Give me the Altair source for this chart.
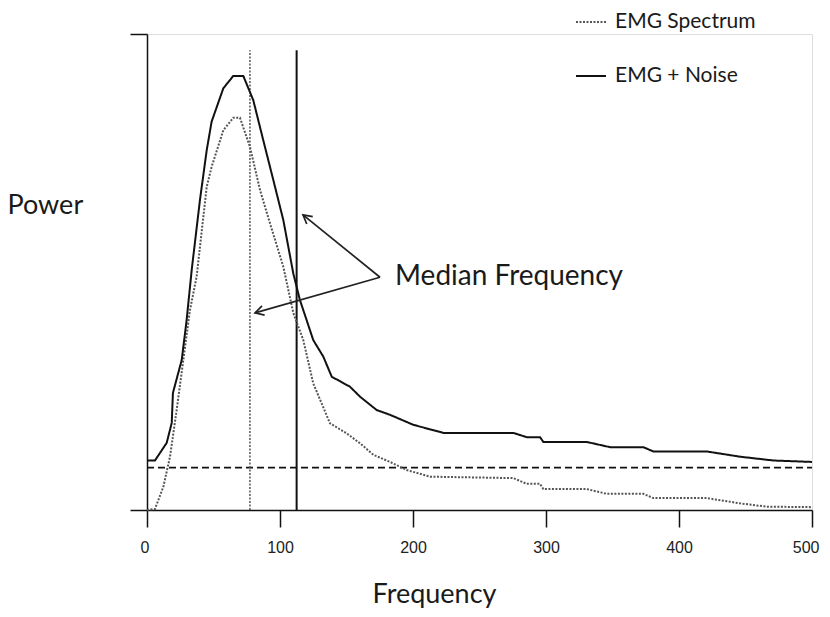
import math
import altair as alt
import pandas as pd

# ---- data ----
noise_freq = [0, 6, 14.8, 18.6, 19.5, 26.1, 29.8, 33.6, 39.8, 44.9, 48.6, 57.4, 64.9, 72.4,
              79.9, 87.4, 95.0, 102.5, 110.0, 115.0, 125.0, 132.6, 138.9, 152.6, 160.2, 172.7,
              182.7, 200.2, 222.8, 275.4, 285.5, 295.5, 298.0, 330.6, 348.1, 373.2, 380.7,
              420.8, 445.9, 470.9, 500]
noise_power = [10.4, 10.4, 14.1, 18.3, 24.6, 31.5, 39.9, 50.4, 65.1, 75.6, 81.6, 88.6, 91.2, 91.2,
               86.1, 77.7, 69.3, 60.9, 49.7, 44.1, 35.7, 32.2, 28.0, 25.9, 23.8, 21.0,
               20.0, 17.9, 16.2, 16.2, 15.3, 15.3, 14.3, 14.3, 13.2, 13.2, 12.3,
               12.3, 11.2, 10.4, 10.1]

emg_freq = [0, 6, 12.3, 17.3, 22.3, 27.3, 32.3, 37.3, 44.9, 48.6, 57.4, 64.9, 69.9, 77.4,
            85.0, 92.5, 102.5, 110.0, 117.5, 125.0, 137.6, 150.2, 160.2, 170.2, 182.7,
            195.3, 212.8, 275.4, 285.5, 295.5, 298.0, 330.6, 345.6, 373.2, 380.7, 420.8,
            445.9, 465.9, 500]
emg_power = [0, 0.2, 4.9, 11.2, 21.0, 31.5, 42.0, 49.0, 67.9, 72.1, 79.8, 82.4, 82.4, 76.3,
             67.2, 60.2, 51.1, 41.4, 35.7, 26.6, 18.2, 16.1, 14.0, 11.6, 10.1,
             8.4, 7.0, 6.7, 5.5, 5.5, 4.4, 4.4, 3.4, 3.4, 2.5, 2.5,
             1.4, 0.7, 0.6]

series_names = ["EMG Spectrum", "EMG + Noise"]
median_freqs = [77.4, 112.5]
median_top = 96.6
noise_floor = 8.9
x_ticks = [0, 100, 200, 300, 400, 500]

label_text = "Median Frequency"
label_pos = (186.5, 48.9)
arrow_tips = [(117.3, 62.0), (81.2, 41.4)]
arrow_start = (175.2, 48.9)

W, H = 665, 476
XMAX, YMAX = 500, 100

curves = pd.DataFrame(
    [{"f": f, "p": p, "series": series_names[0]} for f, p in zip(emg_freq, emg_power)]
    + [{"f": f, "p": p, "series": series_names[1]} for f, p in zip(noise_freq, noise_power)]
)

xs = alt.Scale(domain=[0, XMAX], nice=False, zero=False)
ys = alt.Scale(domain=[0, YMAX], nice=False)

leg = alt.Legend(title=None, orient="none", legendX=428, legendY=-28,
                 symbolType="stroke", symbolSize=900, labelFont="Lato",
                 labelFontSize=21, labelColor="#1a1a1a", rowPadding=28,
                 labelOffset=8, symbolStrokeWidth=1.8)

lines = alt.Chart(curves).mark_line(interpolate="linear", strokeWidth=2).encode(
    x=alt.X("f:Q", scale=xs, axis=alt.Axis(
        values=x_ticks, title="Frequency", grid=False, labelFontSize=16,
        labelFont="Liberation Sans", labelColor="#222", labelPadding=12,
        labelFlush=True, labelFlushOffset=7,
        tickSize=17, tickWidth=1.5, tickColor="#111", domainColor="#111", domainWidth=1.5,
        titleFont="Lato", titleFontSize=27, titleFontWeight="normal", titleColor="#1a1a1a",
        titleX=287, titleY=84, titleBaseline="middle", titleAlign="center")),
    y=alt.Y("p:Q", scale=ys, axis=alt.Axis(
        values=[0, YMAX], labels=False, title="Power", grid=False,
        tickSize=17, tickWidth=1.5, tickColor="#111", domainColor="#111", domainWidth=1.5,
        titleAngle=0, titleFont="Lato", titleFontSize=27, titleFontWeight="normal",
        titleColor="#1a1a1a", titleX=-140, titleY=171, titleAlign="left",
        titleBaseline="middle")),
    color=alt.Color("series:N", scale=alt.Scale(domain=series_names, range=["#555555", "#111111"]),
                    legend=leg),
    strokeDash=alt.StrokeDash("series:N", scale=alt.Scale(domain=series_names,
                                                          range=[[2, 1.5], [1, 0]]), legend=leg),
    order="f:Q",
)

med = pd.DataFrame({"f": median_freqs, "bot": [0, 0], "top": [median_top] * 2})
med_dotted = alt.Chart(med.iloc[[0]]).mark_rule(
    color="#555555", strokeWidth=1.5, strokeDash=[2, 1.5]).encode(
    x=alt.X("f:Q", scale=xs), y=alt.Y("bot:Q", scale=ys), y2="top:Q")
med_solid = alt.Chart(med.iloc[[1]]).mark_rule(
    color="#111111", strokeWidth=2).encode(
    x=alt.X("f:Q", scale=xs), y=alt.Y("bot:Q", scale=ys), y2="top:Q")

floor = alt.Chart(pd.DataFrame({"p": [noise_floor], "a": [0], "b": [XMAX]})).mark_rule(
    color="#111111", strokeWidth=1.8, strokeDash=[7, 4]).encode(
    x=alt.X("a:Q", scale=xs), x2="b:Q", y=alt.Y("p:Q", scale=ys))

arr = pd.DataFrame({
    "x0": [arrow_start[0]] * 2, "y0": [arrow_start[1]] * 2,
    "x1": [t[0] for t in arrow_tips], "y1": [t[1] for t in arrow_tips],
})
kx, ky = W / XMAX, H / YMAX
arr["ang"] = [(math.degrees(math.atan2((r.x1 - r.x0) * kx, (r.y1 - r.y0) * ky)) + 360) % 360
              for r in arr.itertuples()]

arrow_lines = alt.Chart(arr).mark_rule(color="#222", strokeWidth=1.7).encode(
    x=alt.X("x0:Q", scale=xs), y=alt.Y("y0:Q", scale=ys), x2="x1:Q", y2="y1:Q")
arrow_heads = alt.Chart(arr).mark_point(
    shape="M -0.55 1 L 0 0 L 0.55 1", filled=False, color="#222", strokeWidth=1.7,
    size=300, opacity=1).encode(
    x=alt.X("x1:Q", scale=xs), y=alt.Y("y1:Q", scale=ys), angle=alt.Angle("ang:Q", scale=None))

label = alt.Chart(pd.DataFrame({"x": [label_pos[0]], "y": [label_pos[1]], "t": [label_text]})).mark_text(
    align="left", baseline="middle", font="Lato", fontSize=28, color="#1a1a1a").encode(
    x=alt.X("x:Q", scale=xs), y=alt.Y("y:Q", scale=ys), text="t:N")

chart = alt.layer(floor, med_dotted, med_solid, lines, arrow_lines, arrow_heads, label).properties(
    width=W, height=H,
    padding={"left": 139, "top": 26, "right": 10, "bottom": 99},
    autosize=alt.AutoSizeParams(type="none"),
).configure_view(stroke=None).configure(background="white")

chart.save("out.html", embed_options={"renderer": "svg", "actions": False})
